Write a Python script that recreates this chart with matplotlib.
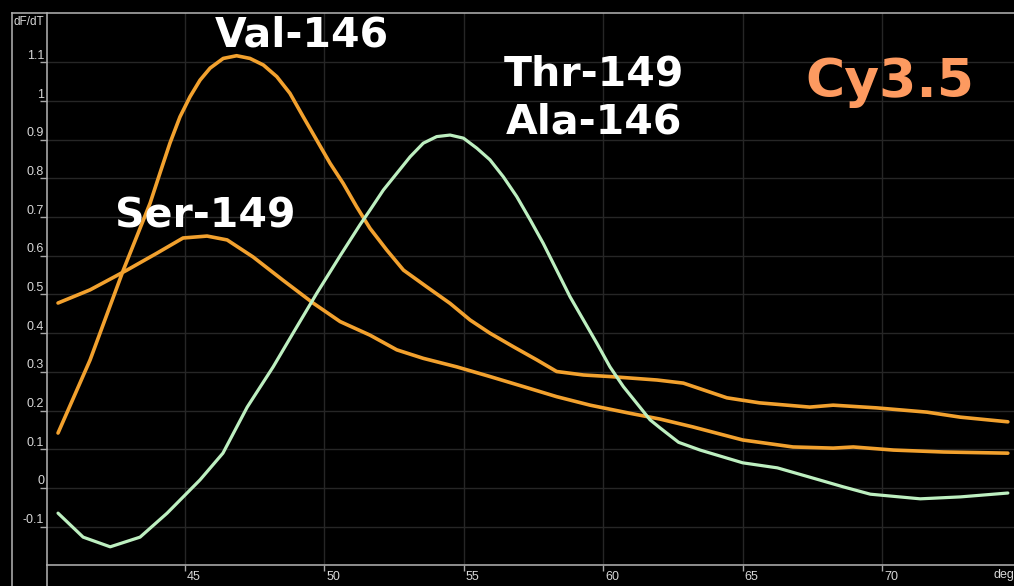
import matplotlib.pyplot as plt
import matplotlib.transforms as mtransforms
from matplotlib.lines import Line2D

# melt curve derivative data (temperature in deg, dF/dT)
val146_t = [40.46, 41.61, 42.8, 43.76, 44.11, 44.47, 44.83, 45.19, 45.55, 45.91, 46.38, 46.86, 47.34, 47.82,
            48.3, 48.77, 49.25, 49.73, 50.21, 50.68, 51.16, 51.64, 52.24, 52.84, 53.67, 54.51, 55.23, 55.94,
            56.78, 57.62, 58.33, 59.29, 60.24, 61.93, 62.87, 64.43, 65.6, 67.4, 68.24, 69.8, 71.6, 72.8, 74.5]
val146_y = [0.142, 0.331, 0.563, 0.736, 0.813, 0.891, 0.959, 1.011, 1.054, 1.085, 1.110, 1.117, 1.110, 1.093,
            1.063, 1.020, 0.959, 0.899, 0.839, 0.787, 0.727, 0.671, 0.615, 0.563, 0.520, 0.477, 0.434, 0.400,
            0.365, 0.331, 0.301, 0.292, 0.288, 0.279, 0.271, 0.233, 0.220, 0.209, 0.214, 0.207, 0.196, 0.183,
            0.171]

ser149_t = [40.46, 41.61, 42.93, 44.01, 44.94, 45.8, 46.52, 47.45, 48.52, 49.6, 50.57, 51.64, 52.6, 53.55,
            54.75, 55.94, 57.14, 58.33, 59.53, 60.96, 62.04, 63.2, 65.0, 66.8, 68.24, 68.96, 70.4, 72.2, 74.5]
ser149_y = [0.478, 0.512, 0.563, 0.607, 0.646, 0.651, 0.641, 0.597, 0.537, 0.478, 0.430, 0.395, 0.357, 0.335,
            0.313, 0.288, 0.262, 0.236, 0.214, 0.193, 0.178, 0.158, 0.124, 0.106, 0.103, 0.106, 0.098, 0.093,
            0.090]

thr149_t = [40.46, 41.36, 42.33, 43.4, 44.37, 45.55, 46.37, 47.24, 48.17, 48.89, 49.74, 50.57, 51.28, 51.64,
            52.12, 52.6, 53.08, 53.55, 54.03, 54.51, 54.99, 55.47, 55.94, 56.42, 56.9, 57.38, 57.85, 58.33,
            58.81, 59.29, 59.77, 60.24, 60.72, 61.68, 62.04, 62.7, 63.47, 65.0, 66.24, 67.4, 68.6, 69.57,
            71.36, 72.8, 74.5]
thr149_y = [-0.065, -0.127, -0.152, -0.127, -0.065, 0.021, 0.090, 0.209, 0.313, 0.401, 0.504, 0.600, 0.680,
            0.718, 0.770, 0.813, 0.856, 0.891, 0.908, 0.912, 0.904, 0.878, 0.848, 0.804, 0.753, 0.693, 0.632,
            0.563, 0.494, 0.434, 0.374, 0.313, 0.262, 0.176, 0.155, 0.118, 0.098, 0.065, 0.052, 0.028, 0.003,
            -0.016, -0.028, -0.023, -0.013]

y_ticks = [-0.1, 0, 0.1, 0.2, 0.3, 0.4, 0.5, 0.6, 0.7, 0.8, 0.9, 1.0, 1.1]
y_labels = ['-0.1', '0', '0.1', '0.2', '0.3', '0.4', '0.5', '0.6', '0.7', '0.8', '0.9', '1', '1.1']
x_ticks = [45, 50, 55, 60, 65, 70]

orange = '#F2A12E'
green = '#BDEFC0'
frame = '#A8A8A8'
W, H = 1014, 586

fig = plt.figure(figsize=(W / 100, H / 100), dpi=100, facecolor='black')
ax = fig.add_axes([47 / W, 21 / H, (W - 47) / W, 552 / H])
ax.set_facecolor('black')

line_style = dict(solid_capstyle='round', solid_joinstyle='round')
ax.plot(val146_t, val146_y, color=orange, lw=2.6, **line_style)
ax.plot(ser149_t, ser149_y, color=orange, lw=2.6, **line_style)
ax.plot(thr149_t, thr149_y, color=green, lw=2.3, **line_style)

ax.set_xlim(40.065, 74.72)
ax.set_ylim(-0.199, 1.2274)
ax.set_yticks(y_ticks, y_labels)
ax.set_xticks(x_ticks, [str(v) for v in x_ticks])
ax.grid(color='#262626', lw=1)
ax.set_axisbelow(True)

for side in ['top', 'left', 'bottom']:
    ax.spines[side].set_color(frame)
    ax.spines[side].set_linewidth(1.2)
ax.spines['right'].set_visible(False)

tick_font = ['Liberation Sans Narrow', 'Liberation Sans', 'DejaVu Sans']
ax.tick_params(axis='y', direction='out', length=5, width=1, color=frame, labelcolor='#D8D8D8',
               labelsize=9, pad=0)
ax.tick_params(axis='x', direction='out', length=4.5, width=1, color=frame, labelcolor='#D8D8D8',
               labelsize=9, pad=0)
for lab in ax.get_yticklabels():
    lab.set_family(tick_font)
    lab.set_transform(lab.get_transform() + mtransforms.ScaledTranslation(0.04, 0.08, fig.dpi_scale_trans))
for lab in ax.get_xticklabels():
    lab.set_family(tick_font)
    lab.set_horizontalalignment('left')
    lab.set_transform(lab.get_transform() + mtransforms.ScaledTranslation(0.02, 0.0, fig.dpi_scale_trans))

# outer frame of the y label column
fig.add_artist(Line2D([12 / W, 12 / W], [0, 1 - 13 / H], color=frame, lw=1.2))
fig.add_artist(Line2D([47 / W, 47 / W], [0, 21 / H], color=frame, lw=1.2))
fig.add_artist(Line2D([12 / W, 47 / W], [1 - 13 / H, 1 - 13 / H], color=frame, lw=1.2))
fig.text(14 / W, 1 - 25 / H, 'dF/dT', color='#D8D8D8', fontsize=8.5, family=tick_font)
ax.text((993 - 47) / (W - 47), -4 / 552, 'deg', transform=ax.transAxes,
        color='#D8D8D8', fontsize=9, family=tick_font, va='top', ha='left')

# peak labels
big = dict(color='white', fontsize=29.5, fontweight='bold', family='DejaVu Sans', ha='center', va='baseline')
ax.text(49.19, 1.140, 'Val-146', **big)
ax.text(59.67, 1.039, 'Thr-149', **big)
ax.text(59.67, 0.915, 'Ala-146', **big)
ax.text(45.73, 0.674, 'Ser-149', **big)
ax.text(70.28, 1.010, 'Cy3.5', color='#FD9A60', fontsize=38.5, fontweight='bold', family='DejaVu Sans',
        ha='center', va='baseline')

fig.savefig('out.png', dpi=100, facecolor='black')
